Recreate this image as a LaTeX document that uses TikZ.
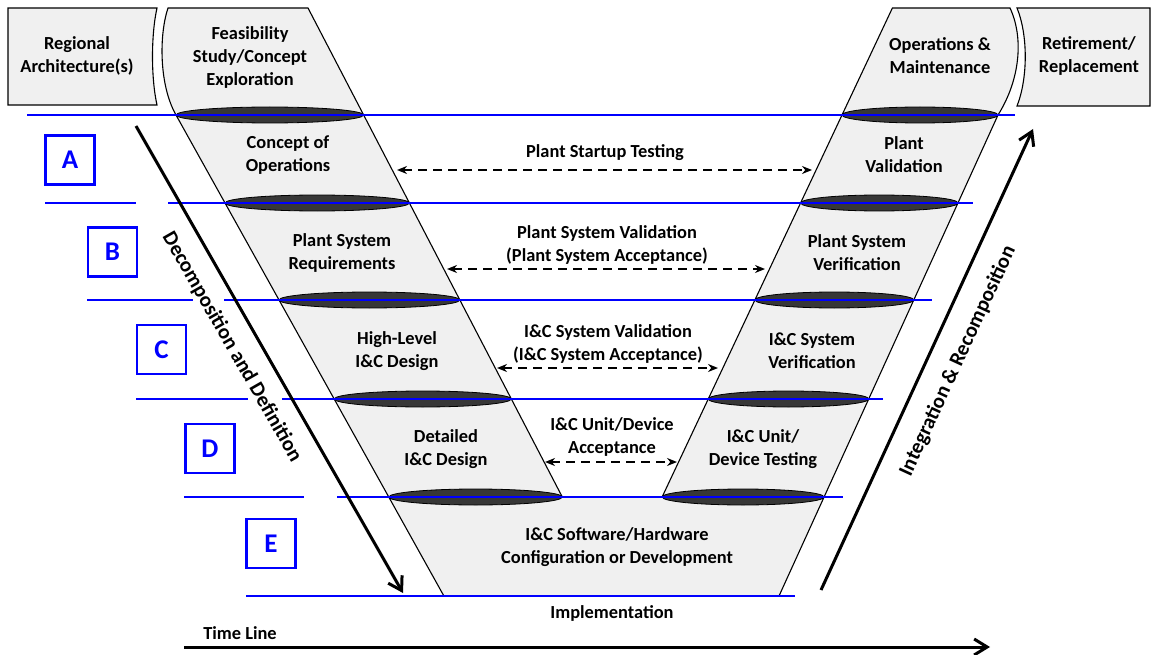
\documentclass[tikz,border=0pt]{standalone}
\usepackage{fontspec}
\setmainfont{Carlito}
\usetikzlibrary{arrows.meta}
\definecolor{vgray}{RGB}{240,240,240}
\definecolor{lens}{RGB}{55,55,55}
\definecolor{bl}{RGB}{0,0,255}
\begin{document}
\begin{tikzpicture}[x=1pt,y=-1pt,
  txt/.style={font=\fontsize{18.4}{23}\selectfont\bfseries, align=center, inner sep=0pt},
  bigtxt/.style={font=\fontsize{21}{25}\selectfont\bfseries, inner sep=0pt},
  phase/.style={fill=vgray, draw=black, line width=1.1pt},
  lensst/.style={fill=lens, draw=black, line width=0.8pt},
  bline/.style={draw=bl, line width=2.5pt},
  letterbox/.style={draw=bl, line width=2.2pt, fill=white, minimum width=49pt, minimum height=49pt, text=bl, font=\fontsize{27}{30}\selectfont\bfseries, inner sep=0pt},
  darr/.style={dash pattern=on 9pt off 6pt, line width=1.7pt, {Stealth[length=10pt,width=8pt]}-{Stealth[length=10pt,width=8pt]}},
  barr/.style={line width=3pt, -{Straight Barb[length=13pt,width=16pt]}}
]
\useasboundingbox (0,0) rectangle (1153,655);

% side boxes
\draw[phase] (8,8) -- (157,8) .. controls (151,35) and (151,78) .. (157,105) -- (8,105) -- cycle;
\draw[phase] (1017,8) -- (1150,8) -- (1150,106) -- (1017,106) .. controls (1028,78) and (1028,35) .. (1017,8) -- cycle;

% V shape
\draw[phase] (168,8) -- (308,8) -- (562.3,497) -- (662.1,497) -- (892.4,8) -- (1010,8)
  .. controls (1024,38) and (1020,80) .. (998,115) -- (779,596) -- (443.9,596) -- (176,115)
  .. controls (159,85) and (159,35) .. (168,8) -- cycle;

% lenses
\foreach \c/\r/\y in {269.8/93.8/115, 317.2/92.2/203, 369.4/90.4/300, 422.75/88.55/399, 475.55/86.75/497,
                      920/78/115, 879.3/78.7/203, 834.35/79.45/300, 788.5/80.3/399, 743.05/80.95/497}
  \draw[lensst] (\c,\y) ellipse [x radius=\r, y radius=8];

% blue level lines
\draw[bline] (27,115) -- (1015,115);
\draw[bline] (45,203) -- (136,203);  \draw[bline] (168,203) -- (973,203);
\draw[bline] (87,300) -- (193,300);  \draw[bline] (224,300) -- (932,300);
\draw[bline] (136,399) -- (248,399); \draw[bline] (282,399) -- (883,399);
\draw[bline] (184,497) -- (304,497); \draw[bline] (337,497) -- (843,497);
\draw[bline] (246,596) -- (795,596);

% letter boxes
\node[letterbox] (lA) at (70,160) {A};
\node[letterbox] (lB) at (112.5,252) {B};
\node[letterbox] (lC) at (161.5,349.5) {C};
\node[letterbox] (lD) at (210,448.5) {D};
\node[letterbox] (lE) at (271,543.5) {E};

% texts
\node[txt] (reg) at (77,56) {Regional\\Architecture(s)};
\node[txt] (feas) at (250,57) {Feasibility\\Study/Concept\\Exploration};
\node[txt] (om) at (940,56) {Operations \&\\Maintenance};
\node[txt] (ret) at (1089,56) {Retirement/\\Replacement};
\node[txt] (conops) at (288,155) {Concept of\\Operations};
\node[txt] (pval) at (904,155) {Plant\\Validation};
\node[txt] (psreq) at (342,253) {Plant System\\Requirements};
\node[txt] (psver) at (857,253) {Plant System\\Verification};
\node[txt] (hld) at (397,351) {High-Level\\I\&C Design};
\node[txt] (icver) at (812,351) {I\&C System\\Verification};
\node[txt] (dd) at (446,449) {Detailed\\I\&C Design};
\node[txt] (udt) at (763,449) {I\&C Unit/\\Device Testing};
\node[txt] (swhw) at (617,547) {I\&C Software/Hardware\\Configuration or Development};
\node[txt] (impl) at (612,613) {Implementation};
\node[txt] (tl) at (240,633) {Time Line};

\node[txt] (pst) at (605,153) {Plant Startup Testing};
\node[txt] (psv) at (607,245) {Plant System Validation\\(Plant System Acceptance)};
\node[txt] (icsv) at (608,344) {I\&C System Validation\\(I\&C System Acceptance)};
\node[txt] (uda) at (612,437) {I\&C Unit/Device\\Acceptance};

% dashed arrows
\coordinate (d1a) at (397,170); \coordinate (d1b) at (812,170);
\coordinate (d2a) at (447,269); \coordinate (d2b) at (765,269);
\coordinate (d3a) at (497,368); \coordinate (d3b) at (718,368);
\coordinate (d4a) at (545,462); \coordinate (d4b) at (677,462);
\draw[darr] (d1a) -- (d1b);
\draw[darr] (d2a) -- (d2b);
\draw[darr] (d3a) -- (d3b);
\draw[darr] (d4a) -- (d4b);

% big arrows
\coordinate (dec1) at (136,126); \coordinate (dec2) at (403,593);
\draw[barr] (dec1) -- (dec2);
\node[bigtxt, rotate=-60.2] (decomp) at (232,347) {Decomposition and Definition};

\coordinate (int1) at (821,590); \coordinate (int2) at (1033,129);
\draw[barr] (int1) -- (int2);
\node[bigtxt, rotate=65.2] (integ) at (958,361) {Integration \& Recomposition};

\coordinate (t1) at (184,647); \coordinate (t2) at (990,647);
\draw[barr] (t1) -- (t2);
\end{tikzpicture}
\end{document}
